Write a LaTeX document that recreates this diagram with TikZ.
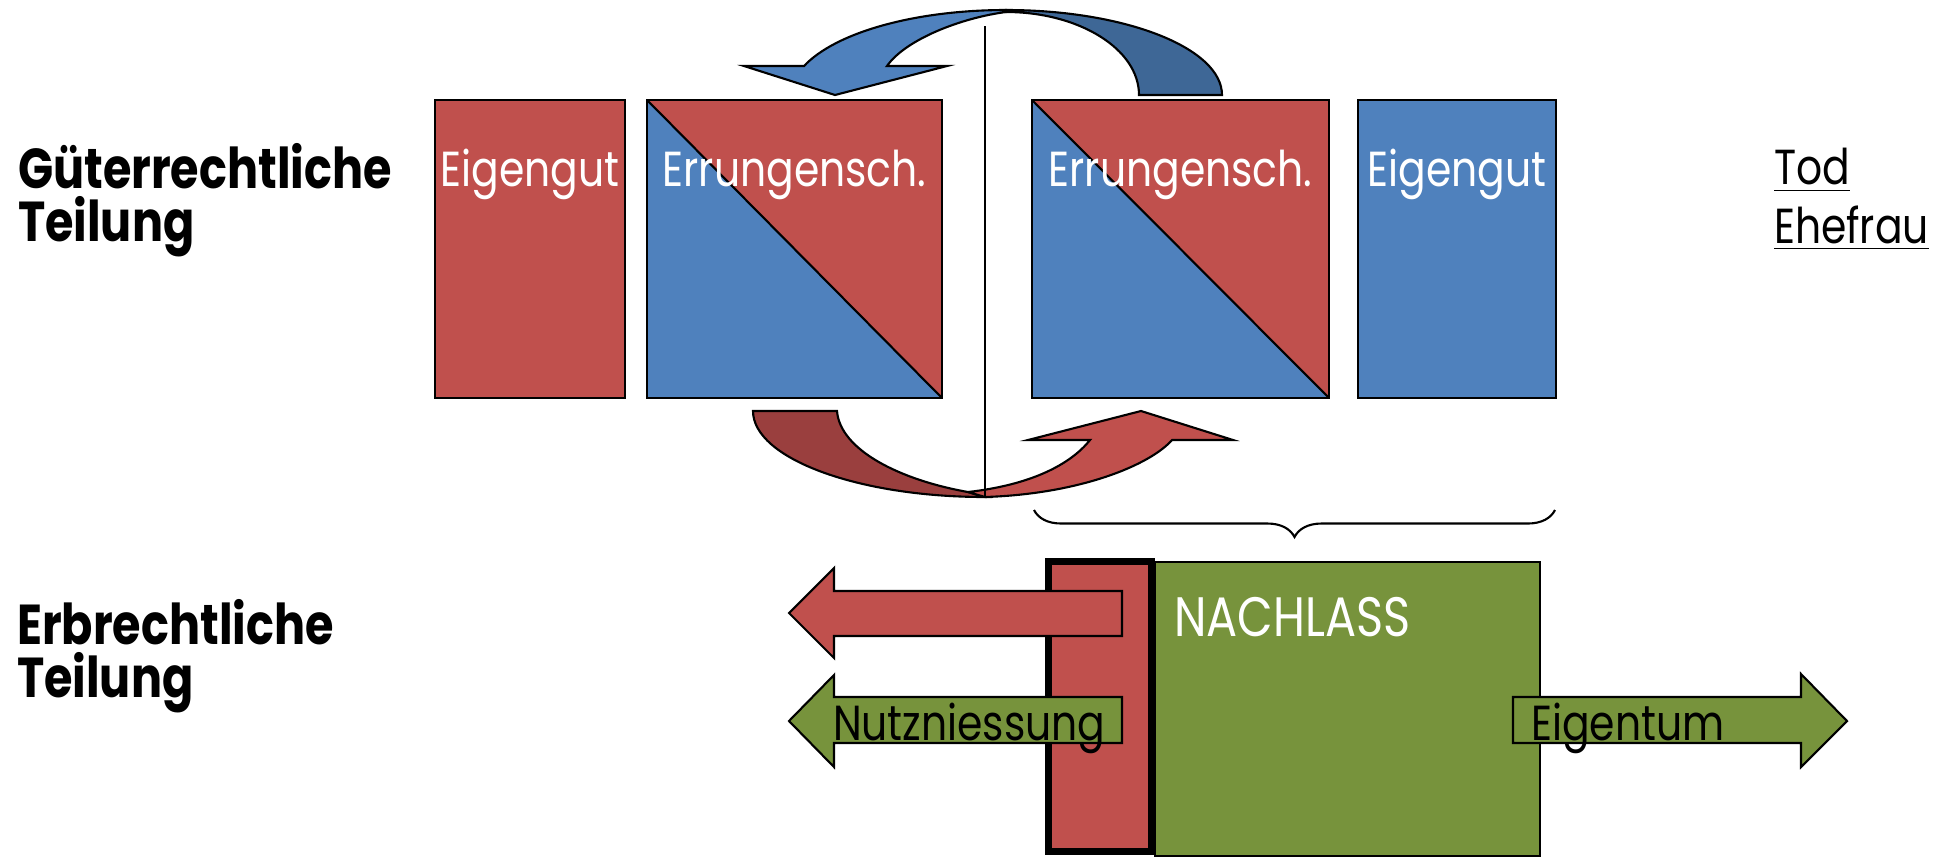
\documentclass[tikz,border=0pt]{standalone}
\usepackage{fontspec}
\setmainfont{Poppins}[FakeStretch=0.83]
\newfontfamily\labfont{Poppins}[FakeStretch=0.82]
\usetikzlibrary{decorations.pathreplacing}
\definecolor{redE}{HTML}{C0504D}
\definecolor{blueE}{HTML}{4F81BD}
\definecolor{greenE}{HTML}{77933C}
\definecolor{darkredE}{HTML}{9A3F3E}
\definecolor{darkblueE}{HTML}{3E6796}

\begin{document}
\begin{tikzpicture}[x=0.01cm,y=-0.01cm,line width=0.6pt,
  gbox/.style={draw,minimum height=2.98cm,inner sep=0},
  halfbox/.style={gbox,fill=redE,path picture={
    \fill[blueE] (path picture bounding box.north west) -- (path picture bounding box.south east)
      -- (path picture bounding box.south west) -- cycle;
    \draw (path picture bounding box.north west) -- (path picture bounding box.south east);}},
  txt/.style={inner sep=0,font=\fontsize{14}{16}\selectfont},
  boxtext/.style={txt,text=white,anchor=base},
  lab/.style={inner sep=0,align=left,anchor=base west,font=\labfont\fontsize{16}{14.8}\selectfont\bfseries}]
\useasboundingbox (0,0) rectangle (1942,857);

\node[lab] (gt) at (17,241) {Güterrechtliche\\Teilung};
\node[lab] (et) at (16,697) {Erbrechtliche\\Teilung};
\node[txt,align=left,anchor=base west,font=\fontsize{14}{16.5}\selectfont] (tod) at (1773,243) {\underline{Tod}\\\underline{Ehefrau}};

\filldraw[fill=darkblueE] (1006,10) .. controls (1125,10) and (1222,48) .. (1222,95) -- (1139,95)
  .. controls (1139,49) and (1079,12) .. (1006,12) -- cycle;
\filldraw[fill=blueE] (804,66) .. controls (836,32) and (916,10) .. (1006,10) -- (1006,12)
  .. controls (960,18) and (905,40) .. (887,66) -- (947,66) -- (835,95) -- (744,66) -- cycle;

\node[gbox,fill=redE,minimum width=1.9cm] (eg1) at (530,249) {};
\node[halfbox,minimum width=2.95cm] (er1) at (794.5,249) {};
\node[halfbox,minimum width=2.97cm] (er2) at (1180.5,249) {};
\node[gbox,fill=blueE,minimum width=1.98cm] (eg2) at (1457,249) {};
\node[boxtext] (teg1) at ([yshift=-0.88cm]eg1.north) {Eigengut};
\node[boxtext] (ter1) at ([yshift=-0.88cm]er1.north) {Errungensch.};
\node[boxtext] (ter2) at ([yshift=-0.88cm]er2.north) {Errungensch.};
\node[boxtext] (teg2) at ([yshift=-0.88cm]eg2.north) {Eigengut};

\filldraw[fill=darkredE] (753,411) -- (837,411) .. controls (840,450) and (900,480) .. (968,492)
  -- (985,497) .. controls (857,497) and (753,458) .. (753,411) -- cycle;
\filldraw[fill=redE] (968,492) .. controls (1030,485) and (1070,465) .. (1090,440) -- (1028,440)
  -- (1141,411) -- (1233,440) -- (1172,440) .. controls (1150,465) and (1080,494) .. (985,497) -- cycle;

\coordinate (vt) at (985,26);
\coordinate (vb) at (985,497);
\draw (vt) -- (vb);

\coordinate (bl) at (1034,510);
\coordinate (br) at (1555,510);
\draw[decorate,decoration={brace,mirror,amplitude=0.27cm}] (bl) -- (br);

\node[draw,fill=greenE,minimum width=3.85cm,minimum height=2.94cm,inner sep=0] (nl) at (1347.5,709) {};
\node[draw,fill=redE,line width=2pt,minimum width=1.03cm,minimum height=2.9cm,inner sep=0] (hb) at (1100,706.5) {};

\filldraw[fill=redE] (1122,591) -- (834,591) -- (834,568) -- (789,613) -- (834,658) -- (834,636) -- (1122,636) -- cycle;
\filldraw[fill=greenE] (1122,697) -- (834,697) -- (834,675) -- (789,721) -- (834,767) -- (834,743) -- (1122,743) -- cycle;
\filldraw[fill=greenE] (1513,697) -- (1801,697) -- (1801,674) -- (1847,721) -- (1801,767) -- (1801,743) -- (1513,743) -- cycle;

\node[txt,text=white,anchor=base west,font=\fontsize{15.8}{18}\selectfont] (nach) at (1173,636) {NACHLASS};
\node[txt,anchor=base west] (nutz) at (832,740) {Nutzniessung};
\node[txt,anchor=base west] (eig) at (1530,740) {Eigentum};
\end{tikzpicture}
\end{document}
